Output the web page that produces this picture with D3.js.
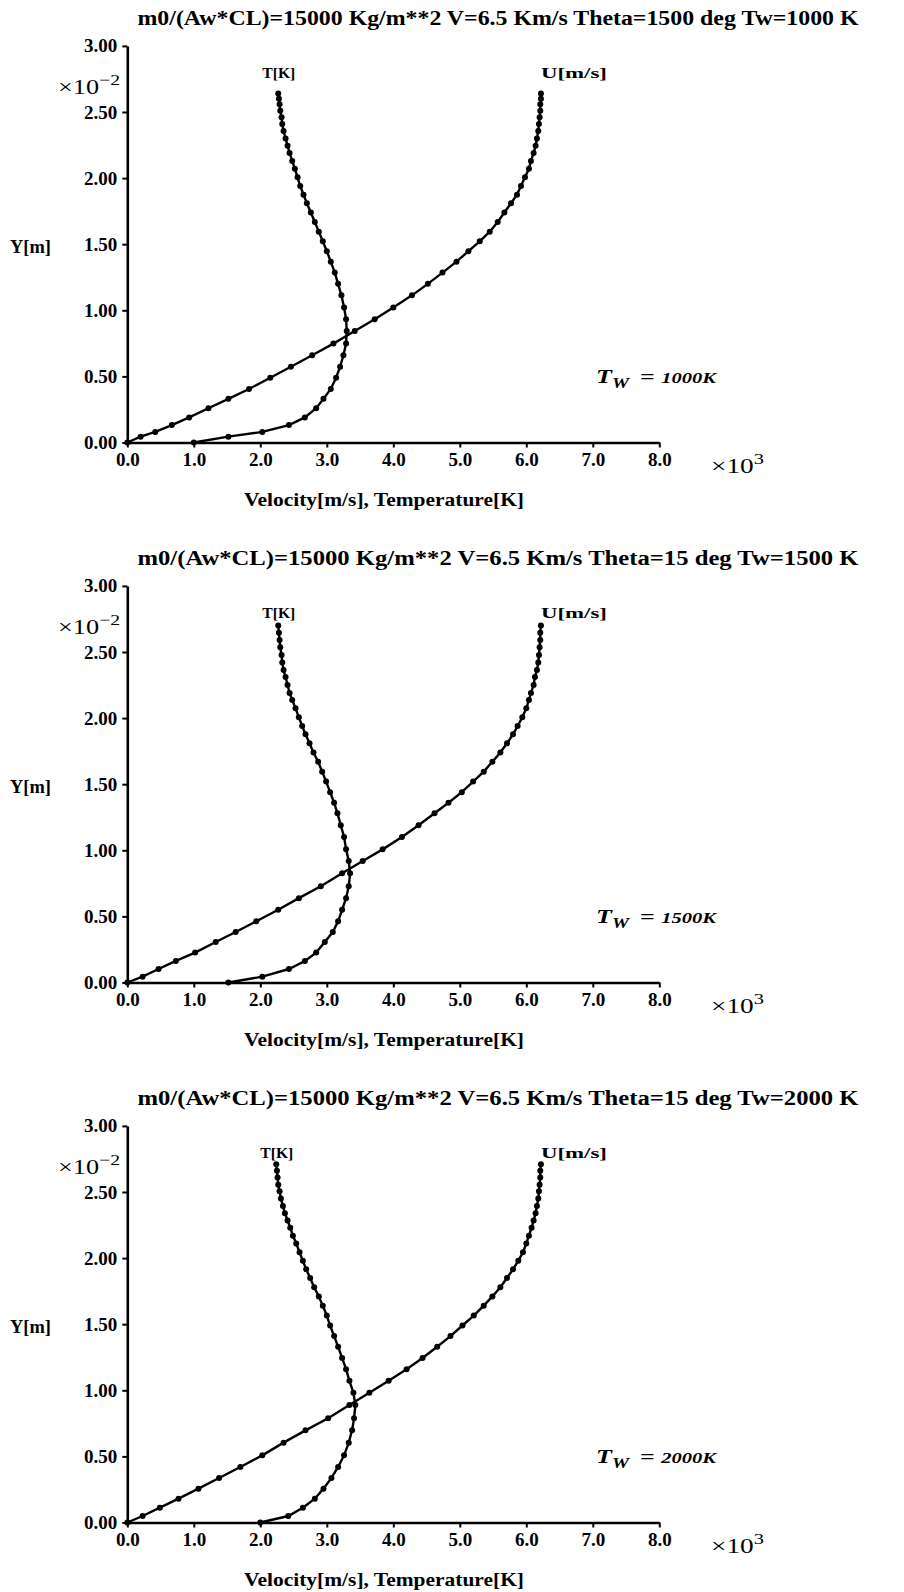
<!DOCTYPE html>
<html>
<head>
<meta charset="utf-8">
<script src="https://cdn.jsdelivr.net/npm/d3@7"></script>
<style>
  body { margin: 0; background: #fff; }
  svg text { font-family: "Liberation Serif", "Times New Roman", serif; font-weight: bold; fill: #000; }
  .tick text { font-size: 19px; }
  .title { font-size: 20px; }
  .curve-label { font-size: 14px; }
  .axis-title { font-size: 19px; }
  .mult { font-size: 20px; font-weight: normal; }
  .wall { font-size: 19px; font-style: italic; }
</style>
</head>
<body>
<svg id="chart" width="904" height="1592"></svg>
<script>
// Boundary-layer profiles: distance from wall Y (×10^-2 m),
// velocity U and temperature T (×10^3 m/s, ×10^3 K) for three wall temperatures.

const titles = [
  "m0/(Aw*CL)=15000 Kg/m**2 V=6.5 Km/s Theta=1500 deg Tw=1000 K",
  "m0/(Aw*CL)=15000 Kg/m**2 V=6.5 Km/s Theta=15 deg Tw=1500 K",
  "m0/(Aw*CL)=15000 Kg/m**2 V=6.5 Km/s Theta=15 deg Tw=2000 K"
];
const wallTemps = ["1000K", "1500K", "2000K"];

const yTickValues = [0, 0.5, 1.0, 1.5, 2.0, 2.5, 3.0];
const xTickValues = [0, 1, 2, 3, 4, 5, 6, 7, 8];

// Tw = 1000 K
const yPos1 = [0, 0.044, 0.080, 0.132, 0.190, 0.259, 0.330, 0.405, 0.490, 0.573,
  0.660, 0.748, 0.843, 0.932, 1.022, 1.113, 1.200, 1.285, 1.368, 1.447,
  1.522, 1.595, 1.668, 1.740, 1.810, 1.875, 1.940, 2.006, 2.070, 2.130,
  2.190, 2.245, 2.300, 2.356, 2.410, 2.460, 2.510, 2.558, 2.600, 2.640];
const vel1 = [0, 0.20, 0.42, 0.67, 0.93, 1.22, 1.52, 1.83, 2.15, 2.46,
  2.78, 3.10, 3.42, 3.72, 4.00, 4.28, 4.52, 4.74, 4.95, 5.13,
  5.30, 5.45, 5.57, 5.67, 5.77, 5.86, 5.92, 5.98, 6.04, 6.07,
  6.11, 6.14, 6.16, 6.18, 6.19, 6.20, 6.21, 6.21, 6.22, 6.22];
const temp1 = [1.00, 1.52, 2.03, 2.43, 2.67, 2.84, 2.95, 3.06, 3.14, 3.20,
  3.25, 3.29, 3.30, 3.29, 3.26, 3.22, 3.17, 3.12, 3.06, 3.00,
  2.94, 2.88, 2.82, 2.76, 2.70, 2.65, 2.60, 2.56, 2.52, 2.48,
  2.44, 2.41, 2.38, 2.35, 2.33, 2.32, 2.30, 2.29, 2.28, 2.27];

// Tw = 1500 K
const yPos2 = [0, 0.044, 0.102, 0.163, 0.226, 0.306, 0.382, 0.463, 0.550, 0.638,
  0.728, 0.826, 0.919, 1.007, 1.100, 1.190, 1.280, 1.360, 1.440, 1.520,
  1.595, 1.670, 1.740, 1.810, 1.877, 1.940, 2.006, 2.074, 2.137, 2.190,
  2.250, 2.310, 2.364, 2.420, 2.477, 2.535, 2.590, 2.646, 2.700];
const vel2 = [0, 0.23, 0.47, 0.73, 1.02, 1.33, 1.63, 1.94, 2.27, 2.58,
  2.91, 3.23, 3.54, 3.84, 4.13, 4.38, 4.62, 4.83, 5.03, 5.20,
  5.36, 5.49, 5.61, 5.71, 5.80, 5.87, 5.94, 6.00, 6.04, 6.07,
  6.11, 6.13, 6.16, 6.18, 6.19, 6.20, 6.21, 6.21, 6.22];
const temp2 = [1.52, 2.03, 2.43, 2.67, 2.84, 2.97, 3.09, 3.17, 3.23, 3.29,
  3.33, 3.35, 3.33, 3.29, 3.26, 3.21, 3.16, 3.11, 3.05, 2.99,
  2.93, 2.87, 2.80, 2.74, 2.68, 2.63, 2.58, 2.53, 2.48, 2.44,
  2.41, 2.38, 2.35, 2.33, 2.32, 2.30, 2.29, 2.28, 2.27];

// Tw = 2000 K
const yPos3 = [0, 0.049, 0.112, 0.180, 0.256, 0.337, 0.420, 0.508, 0.604, 0.697,
  0.788, 0.889, 0.982, 1.072, 1.160, 1.245, 1.330, 1.410, 1.490, 1.565,
  1.640, 1.710, 1.780, 1.850, 1.915, 1.980, 2.045, 2.110, 2.170, 2.230,
  2.285, 2.340, 2.395, 2.450, 2.505, 2.555, 2.610, 2.660, 2.710];
const vel3 = [0, 0.23, 0.49, 0.77, 1.07, 1.38, 1.70, 2.03, 2.35, 2.68,
  3.02, 3.34, 3.64, 3.93, 4.20, 4.44, 4.66, 4.86, 5.04, 5.21,
  5.36, 5.49, 5.61, 5.71, 5.80, 5.88, 5.95, 6.00, 6.04, 6.08,
  6.11, 6.14, 6.16, 6.18, 6.19, 6.20, 6.21, 6.21, 6.22];
const temp3 = [2.00, 2.42, 2.64, 2.82, 2.95, 3.07, 3.17, 3.26, 3.33, 3.38,
  3.41, 3.43, 3.40, 3.34, 3.29, 3.23, 3.17, 3.11, 3.05, 3.00,
  2.94, 2.88, 2.81, 2.75, 2.69, 2.64, 2.59, 2.54, 2.49, 2.45,
  2.41, 2.37, 2.34, 2.31, 2.29, 2.27, 2.26, 2.25, 2.24];

const panels = [
  { y: yPos1, u: vel1, t: temp1, title: titles[0], tw: wallTemps[0] },
  { y: yPos2, u: vel2, t: temp2, title: titles[1], tw: wallTemps[1] },
  { y: yPos3, u: vel3, t: temp3, title: titles[2], tw: wallTemps[2] }
];

const panelStep = 540;
const svg = d3.select("#chart");

const x = d3.scaleLinear().domain([0, 8]).range([127.3, 659.3]);
const y = d3.scaleLinear().domain([0, 3]).range([442.5, 45.9]);

function styleAxis(sel) {
  sel.attr("font-family", null).attr("font-size", null);
  sel.select(".domain").attr("stroke", "#000").attr("stroke-width", 2.6);
  sel.selectAll(".tick line").attr("stroke", "#000").attr("stroke-width", 2);
}

panels.forEach((p, i) => {
  const g = svg.append("g").attr("transform", `translate(0,${i * panelStep})`);

  // title
  g.append("text").attr("class", "title")
    .attr("x", 498).attr("y", 25)
    .attr("text-anchor", "middle")
    .attr("textLength", 721).attr("lengthAdjust", "spacingAndGlyphs")
    .text(p.title);

  // axes
  g.append("g")
    .attr("transform", `translate(${x(0)},0)`)
    .call(d3.axisLeft(y).tickValues(yTickValues).tickFormat(d3.format(".2f"))
      .tickSize(5).tickSizeOuter(0).tickPadding(5))
    .call(styleAxis);

  g.append("g")
    .attr("transform", `translate(0,${y(0)})`)
    .call(d3.axisBottom(x).tickValues(xTickValues).tickFormat(d3.format(".1f"))
      .tickSize(5).tickSizeOuter(0).tickPadding(5))
    .call(styleAxis);

  // axis multipliers
  const m2 = g.append("text").attr("class", "mult").attr("x", 58).attr("y", 94)
    .attr("textLength", 62).attr("lengthAdjust", "spacingAndGlyphs");
  m2.append("tspan").text("×10");
  m2.append("tspan").attr("dy", -9).style("font-size", "15px").text("−2");

  const m3 = g.append("text").attr("class", "mult").attr("x", 711).attr("y", 473)
    .attr("textLength", 53).attr("lengthAdjust", "spacingAndGlyphs");
  m3.append("tspan").text("×10");
  m3.append("tspan").attr("dy", -9).style("font-size", "15px").text("3");

  // axis titles
  g.append("text").attr("class", "axis-title")
    .attr("x", 10).attr("y", 253)
    .attr("textLength", 41).attr("lengthAdjust", "spacingAndGlyphs")
    .text("Y[m]");

  g.append("text").attr("class", "axis-title")
    .attr("x", 244).attr("y", 506)
    .attr("textLength", 280).attr("lengthAdjust", "spacingAndGlyphs")
    .text("Velocity[m/s], Temperature[K]");

  // profiles
  const ptsU = p.y.map((yy, k) => [p.u[k], yy]);
  const ptsT = p.y.map((yy, k) => [p.t[k], yy]);
  const line = d3.line().x(d => x(d[0])).y(d => y(d[1]));

  [ptsU, ptsT].forEach(pts => {
    g.append("path").datum(pts)
      .attr("d", line)
      .attr("fill", "none")
      .attr("stroke", "#000")
      .attr("stroke-width", 2.4);
    g.append("g").selectAll("circle").data(pts).join("circle")
      .attr("cx", d => x(d[0]))
      .attr("cy", d => y(d[1]))
      .attr("r", 3.0)
      .attr("fill", "#000");
  });

  // curve names
  const topT = ptsT[ptsT.length - 1];
  const topU = ptsU[ptsU.length - 1];
  g.append("text").attr("class", "curve-label")
    .attr("x", x(topT[0]) - 16).attr("y", 78)
    .attr("textLength", 33).attr("lengthAdjust", "spacingAndGlyphs")
    .text("T[K]");
  g.append("text").attr("class", "curve-label")
    .attr("x", x(topU[0])).attr("y", 78)
    .attr("textLength", 66).attr("lengthAdjust", "spacingAndGlyphs")
    .text("U[m/s]");

  // wall temperature note
  const tw = g.append("text").attr("class", "wall").attr("x", 596).attr("y", 383)
    .attr("textLength", 120).attr("lengthAdjust", "spacingAndGlyphs");
  tw.append("tspan").text("T");
  tw.append("tspan").attr("dy", 5).style("font-size", "14px").text("W");
  tw.append("tspan").attr("dy", -5).attr("dx", 8).style("font-style", "normal").text("= ");
  tw.append("tspan").style("font-size", "15px").text(p.tw);
});
</script>
</body>
</html>
